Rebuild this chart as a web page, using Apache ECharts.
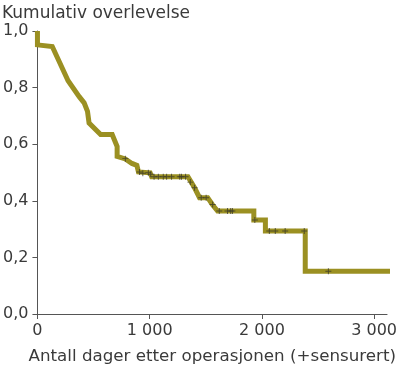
<!DOCTYPE html>
<html>
<head>
<meta charset="utf-8">
<script src="https://cdn.jsdelivr.net/npm/echarts@6/dist/echarts.min.js"></script>
<style>
html,body{margin:0;padding:0;background:#fff;}
#c{width:400px;height:370px;}
</style>
</head>
<body>
<div id="c"></div>
<script>
// Survival curve path (days, cumulative survival)
const curveDays = [0, 0, 132, 273, 372, 416, 446, 460, 563, 666, 710, 710, 783, 842, 886, 900, 1004, 1018, 1341, 1400, 1444, 1517, 1558, 1605, 1928, 1928, 2031, 2031, 2386, 2386, 3160];
const curveSurv = [1.0, 0.951, 0.945, 0.824, 0.768, 0.746, 0.716, 0.675, 0.634, 0.634, 0.592, 0.557, 0.548, 0.532, 0.525, 0.502, 0.499, 0.485, 0.485, 0.446, 0.411, 0.411, 0.387, 0.364, 0.364, 0.332, 0.332, 0.293, 0.293, 0.151, 0.151];
// Censored observations
const censDays = [783, 909, 939, 988, 1009, 1039, 1077, 1121, 1151, 1195, 1268, 1283, 1320, 1362, 1400, 1459, 1503, 1561, 1620, 1693, 1722, 1737, 1937, 2066, 2119, 2207, 2377, 2592];
const censSurv = [0.549, 0.502, 0.497, 0.499, 0.494, 0.485, 0.485, 0.485, 0.485, 0.485, 0.485, 0.485, 0.485, 0.466, 0.446, 0.411, 0.411, 0.387, 0.364, 0.364, 0.364, 0.364, 0.332, 0.293, 0.293, 0.293, 0.293, 0.151];
const yTicks = [0, 0.2, 0.4, 0.6, 0.8, 1.0];
const xTicks = [0, 1000, 2000, 3000];
const yTitle = 'Kumulativ overlevelse';
const xTitle = 'Antall dager etter operasjonen (+sensurert)';

const curve = curveDays.map((d, i) => [d, curveSurv[i]]);
const cens = censDays.map((d, i) => [d, censSurv[i]]);
const font = 'DejaVu Sans, sans-serif';
const plus = 'path://M-0.16,-1H0.16V-0.16H1V0.16H0.16V1H-0.16V0.16H-1V-0.16H-0.16Z';

const chart = echarts.init(document.getElementById('c'), null, {renderer: 'canvas'});
chart.setOption({
  animation: false,
  backgroundColor: '#fff',
  title: {
    text: yTitle, left: -3, top: 0,
    textStyle: {fontFamily: font, fontSize: 17, fontWeight: 'normal', color: '#3a3a3a'}
  },
  grid: {left: 36, right: 10, top: 31, bottom: 55, containLabel: false},
  xAxis: {
    type: 'value', min: 0, max: 3115, interval: 1000,
    name: xTitle, nameLocation: 'middle', nameGap: 34,
    nameTextStyle: {fontFamily: font, fontSize: 16.7, color: '#3a3a3a'},
    axisLine: {show: true, lineStyle: {color: '#555', width: 1}},
    axisTick: {show: true, length: 5, lineStyle: {color: '#555'}, customValues: xTicks},
    axisLabel: {fontFamily: font, fontSize: 16, color: '#3a3a3a', margin: 9, customValues: xTicks,
      formatter: v => String(v).replace(/\B(?=(\d{3})+(?!\d))/g, ' ')},
    splitLine: {show: false}
  },
  yAxis: {
    type: 'value', min: 0, max: 1, interval: 0.2,
    axisLine: {show: true, lineStyle: {color: '#555', width: 1}},
    axisTick: {show: true, length: 5, lineStyle: {color: '#555'}},
    axisLabel: {fontFamily: font, fontSize: 16, color: '#3a3a3a', margin: 9,
      formatter: v => v.toFixed(1).replace('.', ',')},
    splitLine: {show: false}
  },
  series: [
    {
      type: 'line', data: curve, showSymbol: false, symbol: 'none', clip: false,
      lineStyle: {color: '#9b9022', width: 5, join: 'miter'}, z: 2
    },
    {
      type: 'scatter', data: cens, symbol: plus, symbolSize: 6, clip: false,
      itemStyle: {color: '#3b3a28'}, z: 3
    }
  ]
});
</script>
</body>
</html>
